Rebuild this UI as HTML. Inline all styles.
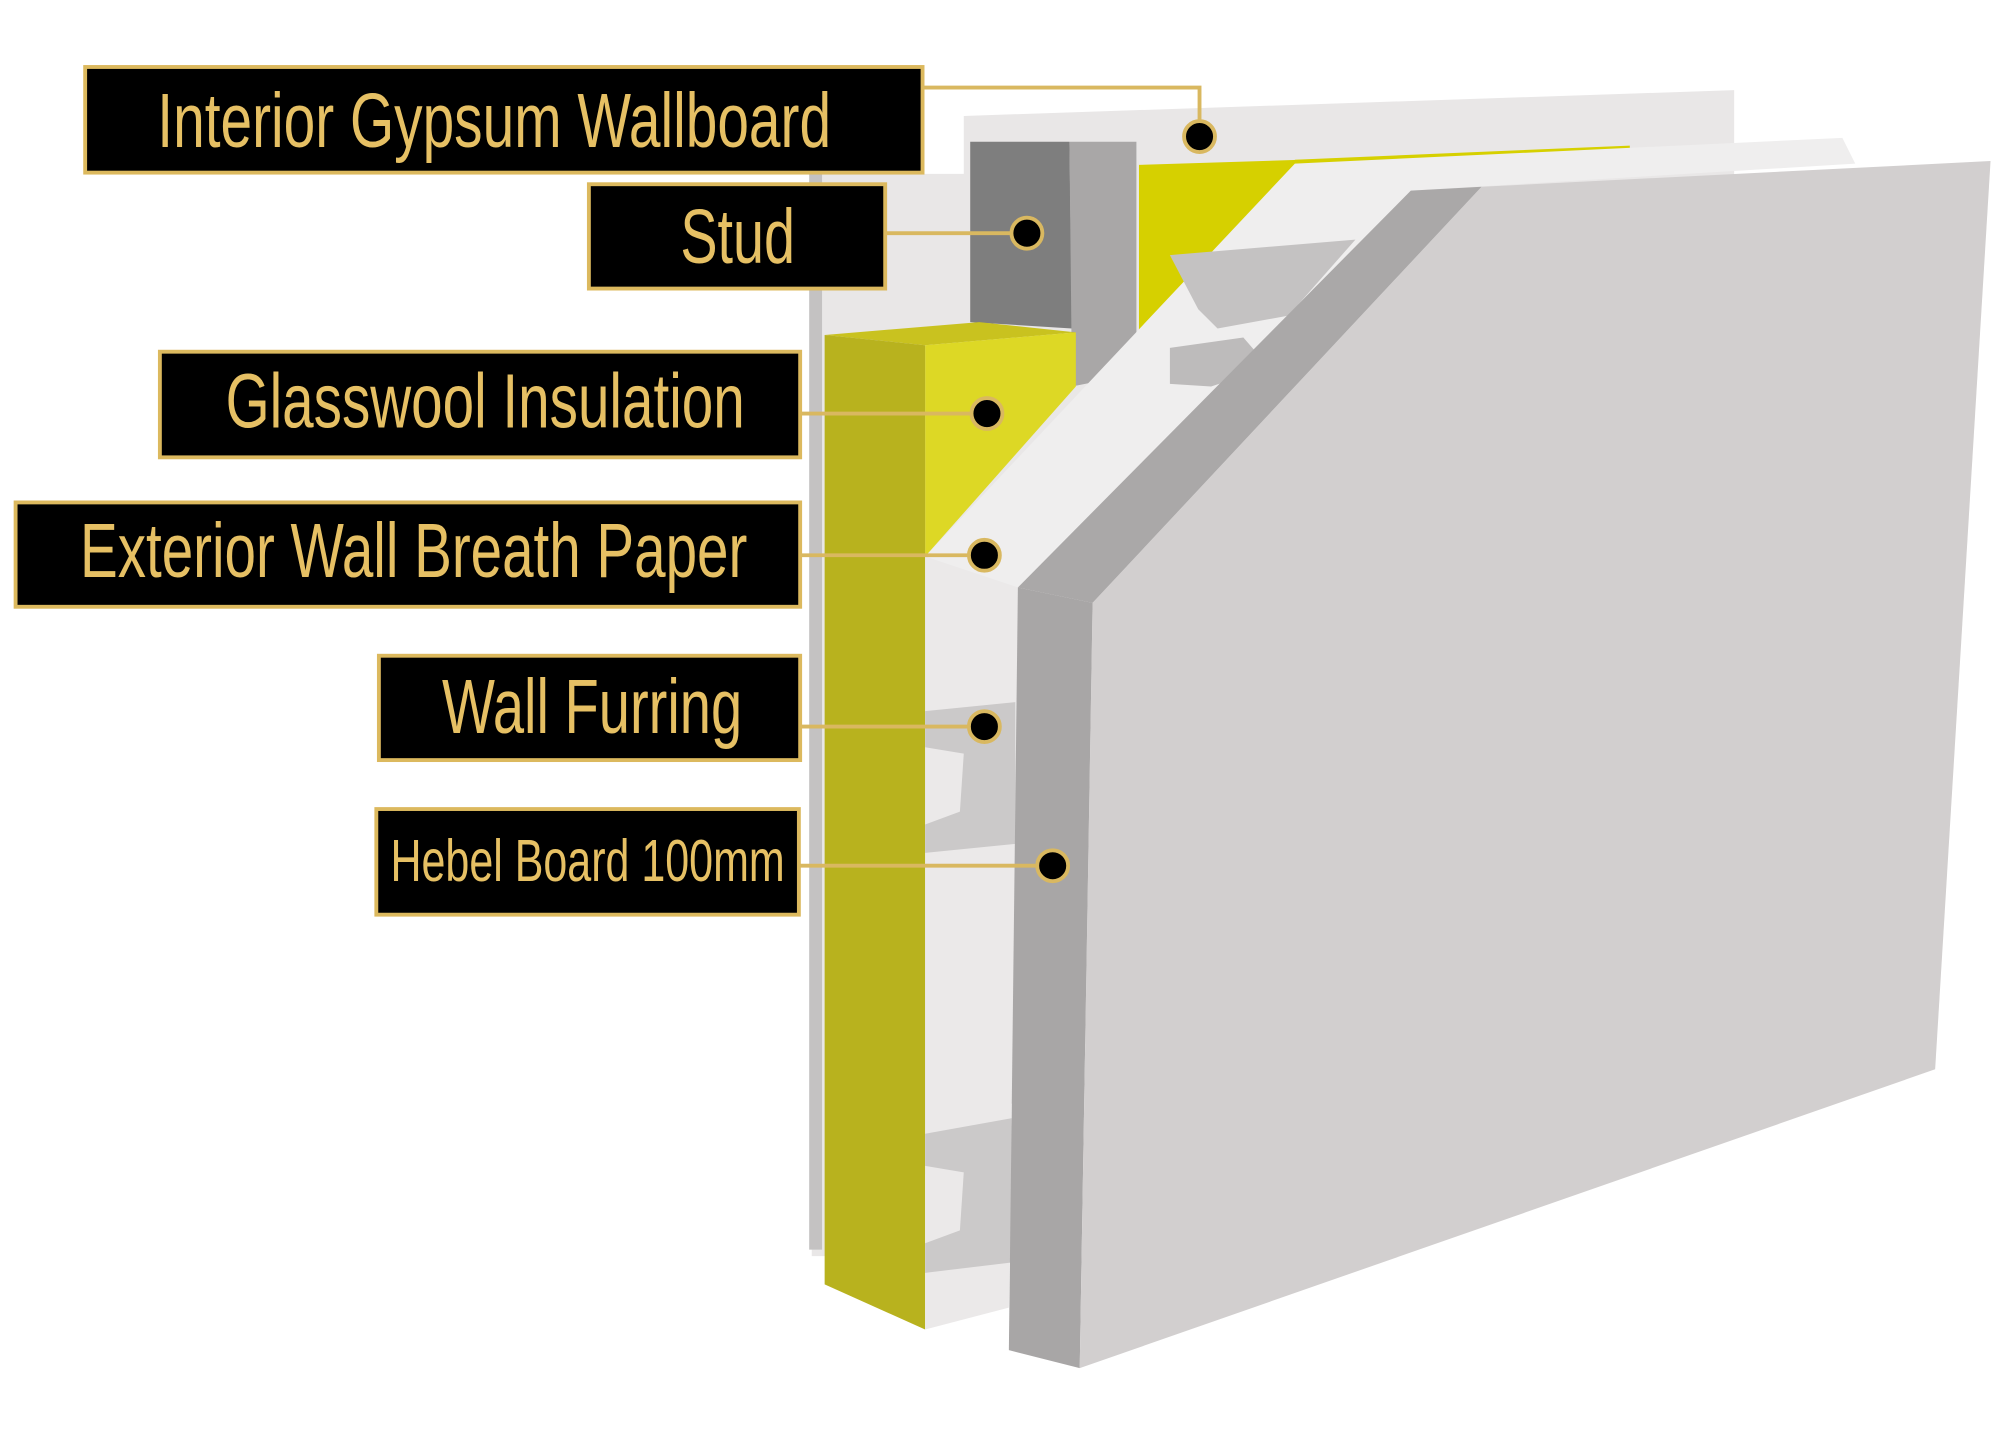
<!DOCTYPE html>
<html><head><meta charset="utf-8"><style>
html,body{margin:0;padding:0;background:#fff;}
svg{display:block;}
text{font-family:"Liberation Sans Narrow","Liberation Sans",sans-serif;fill:#e6c064;}
</style></head><body>
<svg width="2010" height="1430" viewBox="0 0 1560 1110" xmlns="http://www.w3.org/2000/svg">
<rect width="1560" height="1110" fill="#fff"/>
<!-- back board -->
<polygon points="748,90 1346,70 1346,400 640,975 630,975 630,135 748,135" fill="#e9e7e7"/>
<rect x="628" y="135" width="10" height="835" fill="#c4c2c2"/>
<!-- stud -->
<polygon points="753,110 830,110 832,255 753,250" fill="#7e7e7e"/>
<polygon points="830,110 882,110 882,290 832,300" fill="#a9a7a7"/>
<!-- yellow cavity -->
<polygon points="884,128 1010,124 884,258" fill="#d6d000"/>
<polygon points="1005,124 1265,113 1265,117 1005,128" fill="#d6d000"/>
<!-- glasswool block -->
<polygon points="640,260 760,250 835,258 718,268" fill="#c9c21f"/>
<polygon points="718,268 835,258 835,300 718,432" fill="#ddd825"/>
<polygon points="640,260 718,268 718,1032 640,997" fill="#b8b21e"/>
<!-- breath paper / furring layer -->
<polygon points="718,432 1005,127 1430,107 1440,127 1095,148 790,456" fill="#efeeee"/>
<polygon points="718,432 790,456 783,1015 718,1032" fill="#ebe9e9"/>
<polygon points="718,552 788,545 788,655 718,662 718,640 745,630 748,585 718,580" fill="#cbc9c9"/>
<polygon points="718,880 785,868 785,980 718,988 718,965 745,955 748,910 718,905" fill="#cbc9c9"/>
<!-- top clip -->
<polygon points="908,198 1052,186 1000,245 945,255 930,240" fill="#c4c2c2"/>
<polygon points="908,270 965,262 985,285 940,300 908,298" fill="#bdbbbb"/>
<!-- hebel board -->
<polygon points="790,456 1095,148 1150,145 848,468" fill="#aaa8a8"/>
<polygon points="790,456 848,468 838,1062 783,1048" fill="#a8a6a6"/>
<polygon points="848,468 1150,145 1545,125 1502,830 838,1062" fill="#d2cfcf"/>
<!-- connectors -->
<g stroke="#d9b860" stroke-width="3" fill="none">
<polyline points="716,68 931,68 931,106"/>
<line x1="687" y1="181" x2="797" y2="181"/>
<line x1="621" y1="321" x2="766" y2="321"/>
<line x1="621" y1="431" x2="764" y2="431"/>
<line x1="621" y1="564" x2="764" y2="564"/>
<line x1="621" y1="672" x2="817" y2="672"/>
</g>
<g fill="#000" stroke="#d9b860" stroke-width="3">
<circle cx="931" cy="106" r="12"/>
<circle cx="797" cy="181" r="12"/>
<circle cx="766" cy="321" r="12"/>
<circle cx="764" cy="431" r="12"/>
<circle cx="764" cy="564" r="12"/>
<circle cx="817" cy="672" r="12"/>
</g>
<!-- labels -->
<g fill="#000" stroke="#dcb95e" stroke-width="3">
<rect x="66" y="52" width="650" height="82"/>
<rect x="457" y="143" width="230" height="81"/>
<rect x="124" y="273" width="497" height="82"/>
<rect x="12" y="390" width="609" height="81"/>
<rect x="294" y="509" width="327" height="81"/>
<rect x="292" y="628" width="328" height="82"/>
</g>
<text x="122" y="114" font-size="60" textLength="523" lengthAdjust="spacingAndGlyphs">Interior Gypsum Wallboard</text>
<text x="528" y="204" font-size="60" textLength="89" lengthAdjust="spacingAndGlyphs">Stud</text>
<text x="175" y="332" font-size="60" textLength="403" lengthAdjust="spacingAndGlyphs">Glasswool Insulation</text>
<text x="62" y="448" font-size="60" textLength="518" lengthAdjust="spacingAndGlyphs">Exterior Wall Breath Paper</text>
<text x="343" y="569" font-size="60" textLength="233" lengthAdjust="spacingAndGlyphs">Wall Furring</text>
<text x="303" y="684" font-size="46" textLength="306" lengthAdjust="spacingAndGlyphs">Hebel Board 100mm</text>
</svg>
</body></html>
